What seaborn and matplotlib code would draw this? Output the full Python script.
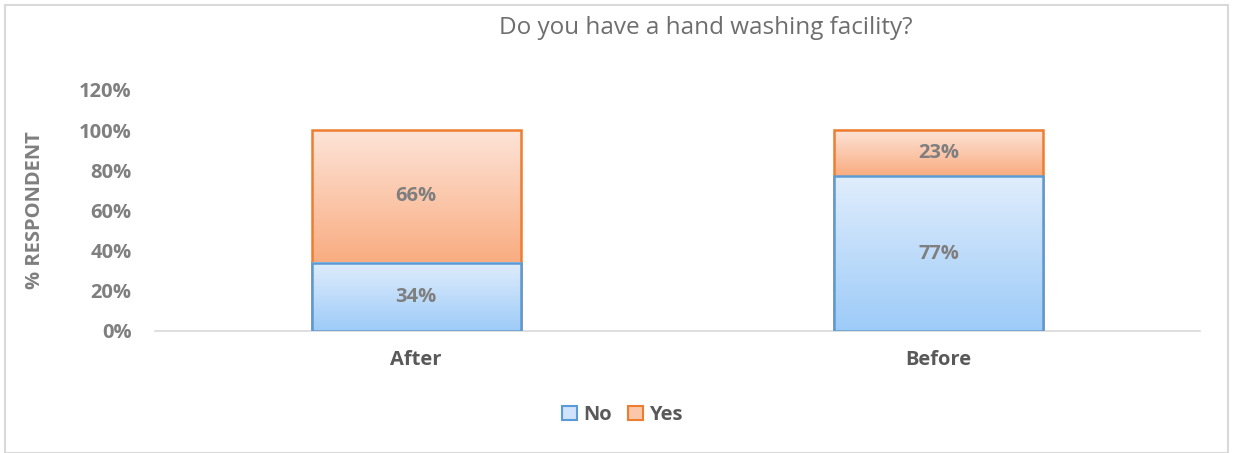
import numpy as np
import pandas as pd
import matplotlib
matplotlib.use("Agg")
import matplotlib.pyplot as plt
import seaborn as sns
from matplotlib.colors import LinearSegmentedColormap
from matplotlib.patches import Rectangle, Patch

categories = ["After", "Before"]
no_vals = [34, 77]
yes_vals = [66, 23]
series_names = ["No", "Yes"]
yticks = [0, 20, 40, 60, 80, 100, 120]

sns.set_theme(style="white")
plt.rcParams['font.family'] = ['Open Sans', 'DejaVu Sans']

grey = "#7F7F7F"
dark = "#595959"
blue_edge = "#5B9BD5"
orange_edge = "#ED7D31"
blue_grad = LinearSegmentedColormap.from_list("b", ["#9DCBF8", "#E0EDFC"])
orange_grad = LinearSegmentedColormap.from_list("o", ["#F9AC80", "#FDE4D8"])
FS = 14.5

fig = plt.figure(figsize=(12.33, 4.53), dpi=100)
ax = fig.add_axes([155/1233, 1 - 331/453, (1200-155)/1233, (331-90)/453])

df = pd.DataFrame({"cat": categories, "No": no_vals, "Yes": yes_vals})
df["total"] = df["No"] + df["Yes"]

sns.barplot(data=df, x="cat", y="total", color="white", width=0.4, ax=ax,
            edgecolor=orange_edge, linewidth=1.8, zorder=2)
n_yes = len(ax.patches)
sns.barplot(data=df, x="cat", y="No", color="white", width=0.4, ax=ax,
            edgecolor=blue_edge, linewidth=1.8, zorder=3)
yes_patches = ax.patches[:n_yes]
no_patches = ax.patches[n_yes:]

grad = np.linspace(0, 1, 256).reshape(-1, 1)

for i, p in enumerate(yes_patches):
    x0, w = p.get_x(), p.get_width()
    top = p.get_height()
    base = no_vals[i]
    ax.imshow(grad, cmap=orange_grad, aspect="auto", origin="lower",
              extent=[x0, x0 + w, base, top], zorder=1.5)
    p.set_facecolor("none")
for p in no_patches:
    x0, y0 = p.get_x(), p.get_y()
    w, h = p.get_width(), p.get_height()
    ax.imshow(grad, cmap=blue_grad, aspect="auto", origin="lower",
              extent=[x0, x0 + w, y0, y0 + h], zorder=2.5)
    p.set_facecolor("none")

ax.set_xlim(-0.5, 1.5)
ax.set_ylim(0, 120)
ax.set_yticks(yticks)
ax.set_yticklabels([f"{v}%" for v in yticks], fontsize=FS, fontweight="bold", color=grey)
ax.set_xticks(range(len(categories)))
ax.set_xticklabels(categories, fontsize=FS, fontweight="bold", color=dark)
ax.tick_params(axis="y", length=0, pad=17)
ax.tick_params(axis="x", length=0, pad=14)
ax.set_xlabel("")
ax.set_ylabel("% RESPONDENT", fontsize=FS, fontweight="bold", color=grey, labelpad=24)
for s in ["top", "right", "left"]:
    ax.spines[s].set_visible(False)
ax.spines["bottom"].set_color("#D9D9D9")
ax.spines["bottom"].set_linewidth(1.2)

for i, c in enumerate(categories):
    ax.text(i, no_vals[i] / 2, f"{no_vals[i]}%", ha="center", va="center",
            fontsize=FS, fontweight="bold", color=grey, zorder=5)
    ax.text(i, no_vals[i] + yes_vals[i] / 2, f"{yes_vals[i]}%", ha="center", va="center",
            fontsize=FS, fontweight="bold", color=grey, zorder=5)

fig.text(706/1233, 1 - 28/453, "Do you have a hand washing facility?", ha="center",
         va="center", fontsize=17.5, color="#6E6E6E")

handles = [Patch(facecolor="#CFE3FB", edgecolor=blue_edge, linewidth=1.5, label=series_names[0]),
           Patch(facecolor="#FBC7AA", edgecolor=orange_edge, linewidth=1.5, label=series_names[1])]
leg = fig.legend(handles=handles, loc="center", bbox_to_anchor=(622/1233, 1 - 415/453),
                 ncol=2, frameon=False, handlelength=0.75, handleheight=0.75,
                 handletextpad=0.3, columnspacing=0.8,
                 prop={"size": FS, "weight": "bold"})
for t in leg.get_texts():
    t.set_color(dark)

fig.patches.append(Rectangle((5/1233, 0), 1223/1233, 1 - 5/453, transform=fig.transFigure,
                             fill=False, edgecolor="#D9D9D9", linewidth=1.5))

fig.savefig("out.png", dpi=100)
